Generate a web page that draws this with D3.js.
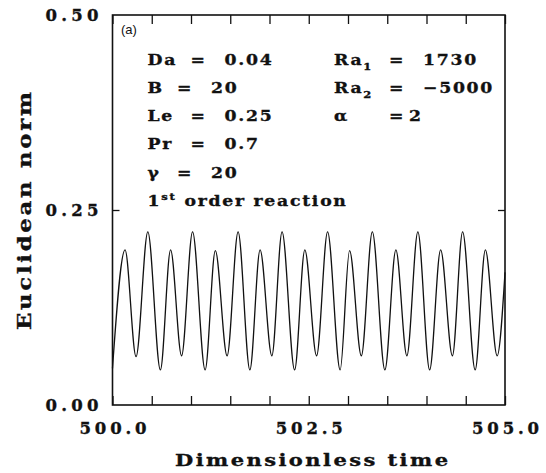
<!DOCTYPE html>
<html>
<head>
<meta charset="utf-8">
<script src="https://cdn.jsdelivr.net/npm/d3@7/dist/d3.min.js"></script>
<style>
  body { margin: 0; background: #fff; }
  text { font-family: "DejaVu Serif", serif; font-weight: bold; fill: #111; stroke: #111; stroke-width: 0.35px; }
</style>
</head>
<body>
<div id="chart"></div>
<script>
// oscillation: alternating low/high peaks, shallow/deep troughs
const timeVals = [500.00, 500.16, 500.30, 500.45, 500.61, 500.74, 500.88, 501.02, 501.18,
                  501.31, 501.46, 501.60, 501.75, 501.88, 502.03, 502.16, 502.32, 502.45,
                  502.60, 502.74, 502.90, 503.02, 503.17, 503.31, 503.47, 503.61, 503.75,
                  503.89, 504.04, 504.18, 504.33, 504.46, 504.62, 504.75, 504.90, 505.00];
const normVals = [0.047, 0.199, 0.062, 0.222, 0.045, 0.199, 0.063, 0.222, 0.045,
                  0.198, 0.063, 0.222, 0.045, 0.199, 0.063, 0.222, 0.045, 0.199,
                  0.063, 0.222, 0.045, 0.198, 0.063, 0.222, 0.045, 0.199, 0.063,
                  0.222, 0.045, 0.199, 0.063, 0.222, 0.045, 0.199, 0.063, 0.170];

const xTicks = [500, 500.5, 501, 501.5, 502, 502.5, 503, 503.5, 504, 504.5, 505];
const xLabels = [500, 502.5, 505];
const yTicks = [0.25];
const yLabels = [0, 0.25, 0.5];

const leftNames = ["Da", "B", "Le", "Pr", "γ"];
const leftVals = ["0.04", "20", "0.25", "0.7", "20"];
const rightNames = ["Ra", "Ra", "α"];
const rightSubs = ["1", "2", ""];
const rightVals = ["1730", "−5000", "2"];

var W = 546, H = 473;
var margin = {top: 15, right: 41, bottom: 68, left: 112.5},
    width = W - margin.left - margin.right,
    height = H - margin.top - margin.bottom;

var svg = d3.select("#chart").append("svg")
    .attr("width", W)
    .attr("height", H);

var g = svg.append("g")
    .attr("transform", "translate(" + margin.left + "," + margin.top + ")");

var x = d3.scaleLinear().domain([500, 505]).range([0, width]);
var y = d3.scaleLinear().domain([0, 0.5]).range([height, 0]);

// inward ticks on all four sides
function ticksOnly(sel) {
  sel.select(".domain").remove();
  sel.selectAll(".tick line").attr("stroke", "#111").attr("stroke-width", 1.3);
}
g.append("g").attr("transform", "translate(0," + height + ")")
  .call(d3.axisBottom(x).tickValues(xTicks).tickSize(-9).tickFormat(""))
  .call(ticksOnly);
g.append("g")
  .call(d3.axisTop(x).tickValues(xTicks).tickSize(-9).tickFormat(""))
  .call(ticksOnly);
g.append("g")
  .call(d3.axisLeft(y).tickValues(yTicks).tickSize(-7).tickFormat(""))
  .call(ticksOnly);
g.append("g").attr("transform", "translate(" + width + ",0)")
  .call(d3.axisRight(y).tickValues(yTicks).tickSize(-7).tickFormat(""))
  .call(ticksOnly);

// tick labels
var xl = g.append("g").attr("transform", "translate(0," + height + ")")
  .call(d3.axisBottom(x).tickValues(xLabels).tickSize(0).tickFormat(d3.format(".1f")));
xl.select(".domain").remove();
xl.selectAll("text")
  .attr("y", 28.5).attr("dy", 0)
  .attr("textLength", 67).attr("lengthAdjust", "spacing")
  .style("font-family", "DejaVu Serif, serif")
  .style("font-weight", "bold")
  .style("font-size", "16.5px")
  .attr("fill", "#111");

var yl = g.append("g")
  .call(d3.axisLeft(y).tickValues(yLabels).tickSize(0).tickPadding(14).tickFormat(d3.format(".2f")));
yl.select(".domain").remove();
yl.selectAll("text")
  .attr("dy", "0.36em")
  .attr("textLength", 53).attr("lengthAdjust", "spacing")
  .style("font-family", "DejaVu Serif, serif")
  .style("font-weight", "bold")
  .style("font-size", "16.5px")
  .attr("fill", "#111");

// frame
g.append("rect")
  .attr("width", width).attr("height", height)
  .attr("fill", "none").attr("stroke", "#111").attr("stroke-width", 1.6);

// the series
var line = d3.line()
  .x(function(d, i) { return x(timeVals[i]); })
  .y(function(d) { return y(d); })
  .curve(d3.curveMonotoneX);

g.append("path")
  .datum(normVals)
  .attr("fill", "none")
  .attr("stroke", "#111")
  .attr("stroke-width", 1.3)
  .attr("d", line);

// wide text: glyphs stretched horizontally like the original plotter font
function wide(parent, px, py, sx, rot) {
  return parent.append("text")
    .attr("transform", "translate(" + px + "," + py + ")" + (rot ? "rotate(" + rot + ")" : "") + "scale(" + sx + ",1)");
}

// axis titles
wide(svg, 311.5, 466, 1.2)
  .attr("text-anchor", "middle")
  .attr("textLength", 273 / 1.2).attr("lengthAdjust", "spacing")
  .style("font-size", "17.5px")
  .text("Dimensionless time");

wide(svg, 31, 211, 1.2, -90)
  .attr("text-anchor", "middle")
  .attr("textLength", 238 / 1.2).attr("lengthAdjust", "spacing")
  .style("font-size", "19px")
  .text("Euclidean norm");

// panel label
svg.append("text")
  .attr("x", 121).attr("y", 34)
  .style("font-family", "Liberation Sans, Arial, sans-serif")
  .style("font-weight", "normal")
  .style("stroke-width", 0)
  .style("font-size", "13px")
  .text("(a)");

// parameter block
var rowGap = 28.3, firstBase = 64.5, sx = 1.15;
var ann = svg.append("g").style("font-size", "15px").style("letter-spacing", "1.5px");

leftNames.forEach(function(name, i) {
  var by = firstBase + i * rowGap;
  var nx = 147.5;
  var ex = nx + 13.5 * (name.length + 1) + 2.5;
  wide(ann, nx, by, sx).text(name);
  wide(ann, ex, by, sx).text("=");
  wide(ann, ex + 34, by, sx).text(leftVals[i]);
});

rightNames.forEach(function(name, i) {
  var by = firstBase + i * rowGap;
  var t = wide(ann, 334, by, sx);
  t.append("tspan").text(name);
  if (rightSubs[i]) {
    t.append("tspan").attr("dy", 5).style("font-size", "10px").text(rightSubs[i]);
  }
  wide(ann, 389, by, sx).text("=");
  wide(ann, rightSubs[i] ? 423 : 409, by, sx).text(rightVals[i]);
});

var last = wide(ann, 147.5, firstBase + 5 * rowGap, sx);
last.append("tspan").text("1");
last.append("tspan").attr("dy", -6).style("font-size", "10px").text("st");
last.append("tspan").attr("dy", 6).attr("dx", "7px").text("order reaction");
</script>
</body>
</html>
